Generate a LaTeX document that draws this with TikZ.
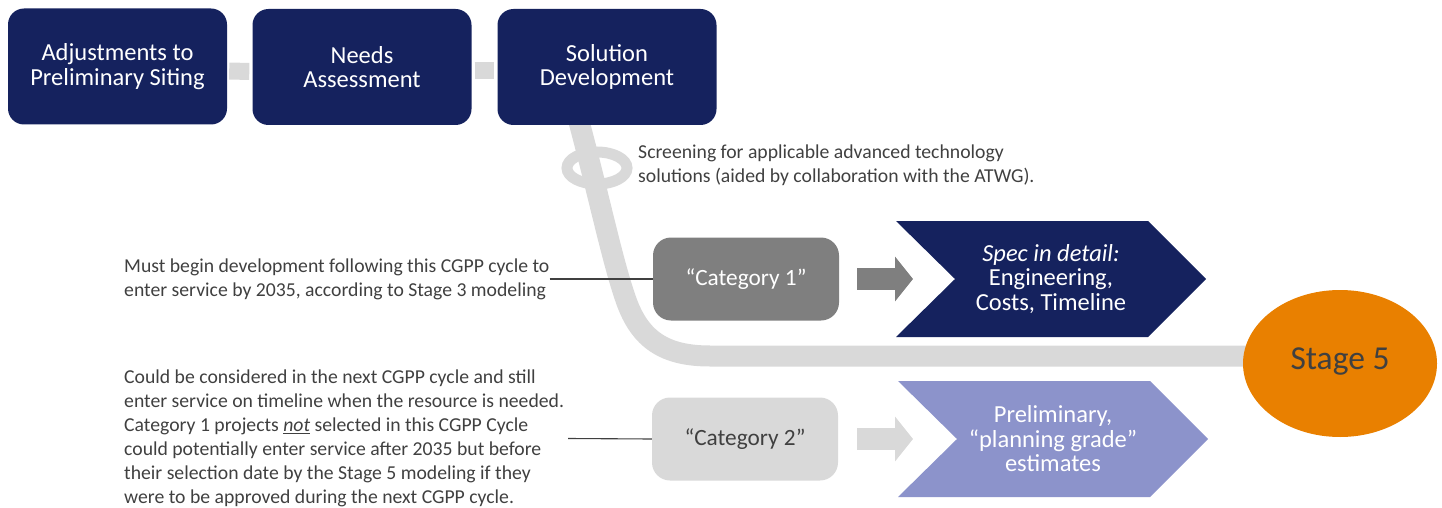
\documentclass[tikz,border=0pt]{standalone}
\usepackage{fontspec}
\setmainfont{Carlito}
\usetikzlibrary{shapes.geometric,arrows.meta}
\definecolor{navy}{RGB}{21,34,94}
\definecolor{bandgray}{RGB}{217,217,217}
\definecolor{catgray}{RGB}{127,127,127}
\definecolor{lavender}{RGB}{140,147,203}
\definecolor{stageorange}{RGB}{233,128,0}
\definecolor{txt}{RGB}{64,64,64}
\begin{document}
\begin{tikzpicture}[x=1pt,y=-1pt,
  topbox/.style={fill=navy,rounded corners=16pt,minimum width=219pt,minimum height=116pt,
    text=white,font=\fontsize{24.5}{24.5}\selectfont,align=center,inner sep=0pt},
  catbox/.style={rounded corners=18pt,minimum width=186pt,minimum height=83pt,
    font=\fontsize{23.3}{25}\selectfont,inner sep=0pt},
  note/.style={text=txt,font=\fontsize{19.7}{24}\selectfont,align=left,anchor=west,inner sep=0pt},
  chevtext/.style={text=white,font=\fontsize{24.5}{24.5}\selectfont,align=center,inner sep=0pt},
  band/.style={draw=bandgray,line width=21pt},
  link/.style={draw=bandgray,line width=17pt},
  blockarrow/.style={line width=22pt,-{Triangle[length=18pt,width=44pt]}},
  leader/.style={draw=txt,line width=1.1pt}]
\useasboundingbox (0,0) rectangle (1442,508);

% gray flow band and loop
\draw[band] (578,118) .. controls (600,200) and (612,260) .. (626,300)
  .. controls (640,340) and (665,356) .. (710,356) -- (1262,356);
\draw[draw=bandgray,line width=11pt] (597,168) ellipse [x radius=30, y radius=16];

% top boxes
\node[topbox] (b1) at (117.5,66.5) {Adjustments to\\Preliminary Siting};
\node[topbox] (b2) at (362,67) {Needs\\Assessment};
\node[topbox] (b3) at (607,67) {Solution\\Development};
\draw[link,shorten <=2pt,shorten >=3pt] ([yshift=-4.5pt]b1.east) -- ([yshift=-4.5pt]b2.west);
\draw[link,shorten <=3pt,shorten >=3pt] ([yshift=-3.5pt]b2.east) -- ([yshift=-3.5pt]b3.west);

% screening text
\node[note] (screen) at (638,165) {Screening for applicable advanced technology\\solutions (aided by collaboration with the ATWG).};

% category boxes
\node[catbox,fill=catgray,text=white] (cat1) at (746,279) {“Category 1”};
\node[catbox,fill=bandgray,text=txt] (cat2) at (745,439) {“Category 2”};

% chevrons
\fill[navy] (896,221) -- (1148,221) -- (1206,279) -- (1148,337) -- (896,337) -- (955,279) -- cycle;
\node[chevtext] (chev1) at (1051,279) {\textit{Spec in detail:}\\Engineering,\\Costs, Timeline};
\fill[lavender] (898,381) -- (1150,381) -- (1208,439) -- (1150,497) -- (898,497) -- (957,439) -- cycle;
\node[chevtext] (chev2) at (1053,439) {Preliminary,\\“planning grade”\\estimates};

% block arrows
\coordinate (tip1) at (913,279);
\coordinate (tip2) at (913,439);
\draw[blockarrow,draw=catgray,fill=catgray] ([xshift=18pt]cat1.east) -- (tip1);
\draw[blockarrow,draw=bandgray,fill=bandgray] ([xshift=19pt]cat2.east) -- (tip2);

% stage 5
\node[ellipse,fill=stageorange,minimum width=194pt,minimum height=147pt,inner sep=0pt,
  text=txt,font=\fontsize{33.5}{36}\selectfont] (stage5) at (1340,363.5) {\raisebox{10pt}{Stage 5}};

% notes
\node[note] (note1) at (124,279) {Must begin development following this CGPP cycle to\\enter service by 2035, according to Stage 3 modeling};
\node[note] (note2) at (124,438.5) {Could be considered in the next CGPP cycle and still\\enter service on timeline when the resource is needed.\\Category 1 projects \underline{\textit{not}} selected in this CGPP Cycle\\could potentially enter service after 2035 but before\\their selection date by the Stage 5 modeling if they\\were to be approved during the next CGPP cycle.};
\draw[leader] (note1.east) -- (cat1.west);
\draw[leader] ([xshift=4pt]note2.east) -- (cat2.west);
\end{tikzpicture}
\end{document}
